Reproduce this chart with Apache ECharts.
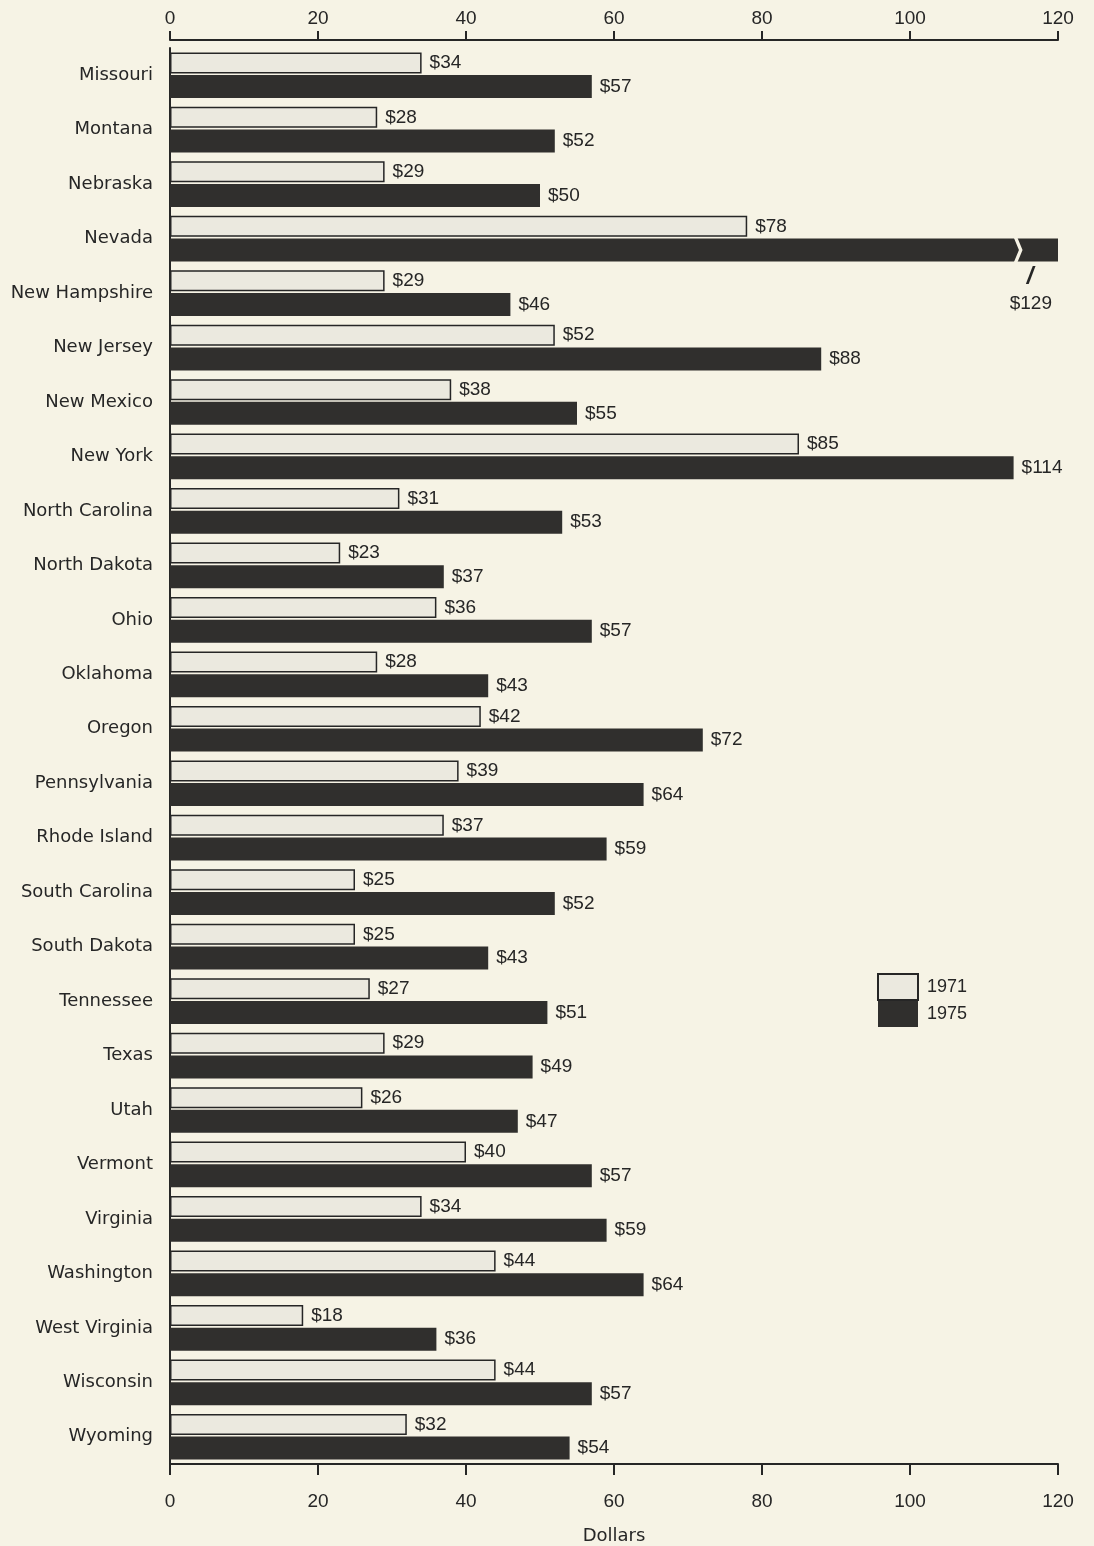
<!DOCTYPE html>
<html>
<head>
<meta charset="utf-8">
<script src="https://cdn.jsdelivr.net/npm/echarts@6/dist/echarts.min.js"></script>
<style>
  html, body { margin: 0; padding: 0; background: #f6f3e5; }
  #main { width: 1094px; height: 1546px; }
</style>
</head>
<body>
<div id="main"></div>
<script>
  // per-capita state spending, dollars
  const states = ['Missouri', 'Montana', 'Nebraska', 'Nevada', 'New Hampshire', 'New Jersey', 'New Mexico',
    'New York', 'North Carolina', 'North Dakota', 'Ohio', 'Oklahoma', 'Oregon', 'Pennsylvania',
    'Rhode Island', 'South Carolina', 'South Dakota', 'Tennessee', 'Texas', 'Utah', 'Vermont',
    'Virginia', 'Washington', 'West Virginia', 'Wisconsin', 'Wyoming'];
  const values1971 = [34, 28, 29, 78, 29, 52, 38, 85, 31, 23, 36, 28, 42, 39, 37, 25, 25, 27, 29, 26, 40, 34, 44, 18, 44, 32];
  const values1975 = [57, 52, 50, 129, 46, 88, 55, 114, 53, 37, 57, 43, 72, 64, 59, 52, 43, 51, 49, 47, 57, 59, 64, 36, 57, 54];
  const xTicks = [0, 20, 40, 60, 80, 100, 120];

  const ink = '#262626';
  const bg = '#f6f3e5';
  const axisMax = xTicks[xTicks.length - 1];

  let chart = echarts.init(document.getElementById('main'));

  const axisCommon = {
    type: 'value',
    min: xTicks[0],
    max: axisMax,
    interval: 20,
    splitLine: { show: false },
    axisLine: { show: true, lineStyle: { color: ink, width: 2 } },
    axisTick: { show: true, length: 11, lineStyle: { color: ink, width: 2 } }
  };

  let option = {
    backgroundColor: bg,
    animation: false,
    textStyle: { fontFamily: 'Liberation Sans, Arial, sans-serif' },
    grid: { left: 170, right: 36, top: 48, bottom: 82, containLabel: false, outerBoundsMode: 'none' },
    legend: {
      orient: 'vertical',
      left: 877,
      top: 973,
      padding: 0,
      icon: 'rect',
      itemWidth: 40,
      itemHeight: 26,
      itemGap: 0,
      data: ['1971', '1975'],
      textStyle: { color: ink, fontSize: 18, padding: [0, 0, 0, 4] }
    },
    xAxis: [
      Object.assign({}, axisCommon, {
        position: 'bottom',
        name: 'Dollars',
        nameLocation: 'middle',
        nameGap: 63,
        nameTextStyle: { color: ink, fontSize: 18, fontFamily: 'DejaVu Sans, sans-serif' },
        axisLabel: { color: ink, fontSize: 19, margin: 28 }
      }),
      Object.assign({}, axisCommon, {
        position: 'top',
        offset: 8,
        axisTick: { show: true, length: 9, lineStyle: { color: ink, width: 2 } },
        axisLabel: { color: ink, fontSize: 19, margin: 12 }
      })
    ],
    yAxis: {
      type: 'category',
      inverse: true,
      data: states,
      axisLine: { show: true, lineStyle: { color: ink, width: 2 } },
      axisTick: { show: false },
      axisLabel: { color: ink, fontSize: 18, margin: 17, fontFamily: 'DejaVu Sans, sans-serif' }
    },
    series: [
      {
        name: '1971',
        type: 'bar',
        xAxisIndex: 0,
        barWidth: 21,
        barGap: '8%',
        data: values1971,
        itemStyle: { color: '#ebe9df', borderColor: ink, borderWidth: 1.5 },
        label: {
          show: true,
          position: 'right',
          distance: 8,
          color: ink,
          fontSize: 19,
          formatter: p => '$' + p.value
        }
      },
      {
        name: '1975',
        type: 'bar',
        xAxisIndex: 0,
        barWidth: 23,
        data: values1975.map(v => {
          if (v > axisMax) {
            return {
              value: v,
              label: {
                position: ['100%', '100%'],
                align: 'right',
                verticalAlign: 'top',
                offset: [-6, 3],
                lineHeight: 26,
                formatter: '{s|/}\n$' + v,
                rich: { s: { fontSize: 24, fontWeight: 'bold', fontStyle: 'italic', color: ink, align: 'center', width: 44 } }
              }
            };
          }
          return v;
        }),
        itemStyle: { color: '#302f2d' },
        label: {
          show: true,
          position: 'right',
          distance: 8,
          color: ink,
          fontSize: 19,
          formatter: p => '$' + p.value
        },
        markPoint: {
          silent: true,
          label: { show: false },
          data: values1975.map((v, i) => ({ v: v, i: i }))
            .filter(d => d.v > axisMax)
            .map(d => ({
              coord: [114.6, states[d.i]],
              symbol: 'path://M0,0 L4,0 L10,10 L4,20 L0,20 L6,10 Z',
              symbolSize: [9, 26],
              itemStyle: { color: bg }
            }))
        }
      }
    ]
  };

  chart.setOption(option);
  window.addEventListener('resize', () => chart.resize());
</script>
</body>
</html>
